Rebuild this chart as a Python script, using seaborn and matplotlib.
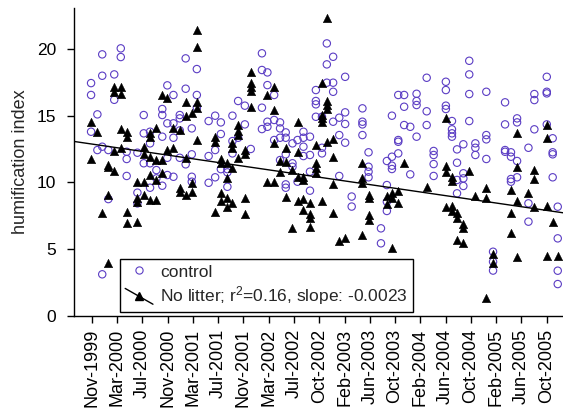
import numpy as np
import pandas as pd
import matplotlib
matplotlib.use("Agg")
import matplotlib.pyplot as plt
import matplotlib.dates as mdates
from matplotlib.lines import Line2D
from matplotlib.legend_handler import HandlerLine2D
import seaborn as sns

# Sampling dates and humification index of each replicate
sample_dates = [
    "1999-11-12", "1999-12-12", "2000-01-04", "2000-02-02", "2000-03-01",
    "2000-04-01", "2000-04-29", "2000-06-19", "2000-07-19", "2000-08-18",
    "2000-09-17", "2000-10-15", "2000-11-08", "2000-12-07", "2001-01-06",
    "2001-02-03", "2001-03-04", "2001-03-28", "2001-05-23", "2001-06-23",
    "2001-07-20", "2001-08-20", "2001-09-13", "2001-10-10", "2001-11-11",
    "2001-12-09", "2002-01-31", "2002-02-26", "2002-03-30", "2002-04-27",
    "2002-05-24", "2002-06-25", "2002-07-19", "2002-08-16", "2002-09-16",
    "2002-10-14", "2002-11-12", "2002-12-05", "2003-01-04", "2003-02-02",
    "2003-03-02", "2003-04-02", "2003-05-23", "2003-06-21", "2003-08-19",
    "2003-09-16", "2003-10-10", "2003-11-09", "2003-12-07", "2004-01-05",
    "2004-02-04", "2004-03-23", "2004-04-25", "2004-06-22", "2004-07-21",
    "2004-08-14", "2004-09-13", "2004-10-11", "2004-11-09", "2004-12-31",
    "2005-02-01", "2005-03-30", "2005-04-27", "2005-05-26", "2005-07-19",
    "2005-08-16", "2005-10-14", "2005-11-11", "2005-12-05",
]

control = [
    [17.43, 16.54, 13.79], [15.09, 12.42], [19.58, 17.98, 12.67, 3.12],
    [12.42, 8.75], [18.08, 16.18], [20.03, 19.38], [12.29, 11.75, 10.48],
    [12.22, 9.23, 8.43], [15.04, 13.67, 11.43], [13.79, 12.92, 11.43, 9.60],
    [10.92, 10.30], [15.49, 15.04, 13.42, 9.75], [17.26, 14.42, 11.84, 10.55],
    [16.54, 14.42, 13.34, 10.42], [15.04, 14.79, 13.89, 11.84],
    [19.28, 17.01, 11.35], [14.04, 12.10, 10.42, 10.05], [18.48, 16.54, 15.59],
    [14.59, 11.97, 9.97], [14.99, 12.42, 10.38], [14.49, 13.62, 10.99],
    [10.99, 10.75, 9.67], [14.99, 13.09, 12.17], [16.09, 13.34], [15.74, 14.34],
    [12.50], [19.66, 18.41, 15.59, 13.99], [18.23, 17.28, 14.54, 14.16],
    [16.54, 14.67, 13.17], [14.49, 14.04, 13.34, 11.67],
    [13.74, 13.34, 12.10, 9.85, 9.60], [12.92, 11.43, 11.17], [13.17, 10.05],
    [13.79, 13.34, 12.67, 11.97], [13.42, 12.05, 10.80, 9.38],
    [16.91, 16.09, 15.84, 14.91], [14.91, 12.59, 12.17], [20.40, 18.83, 17.46],
    [19.40, 17.46, 16.78, 14.54], [14.84, 13.54, 10.48],
    [17.90, 15.24, 14.37, 12.97], [8.94, 8.19], [15.54, 14.54, 14.34, 13.54],
    [12.25, 11.17, 10.80, 10.38], [6.56, 5.44], [11.60, 9.80, 8.55, 7.86],
    [14.99, 11.92, 11.25, 11.00], [16.54, 13.17, 13.04, 12.17],
    [16.54, 15.66, 14.29], [14.16, 10.60], [16.63, 16.09, 15.79, 13.42],
    [17.83, 15.32, 14.29], [12.35, 12.05, 11.37, 10.48],
    [17.53, 16.91, 15.74, 15.49], [14.59, 13.97, 13.67, 13.42],
    [12.47, 11.47, 10.18, 9.18], [12.85, 10.68, 10.30, 9.73],
    [19.10, 18.08, 16.61, 14.59], [12.92, 12.59, 12.05],
    [16.78, 13.54, 13.22, 11.75], [4.81, 4.06, 3.40],
    [15.99, 14.34, 12.42, 12.29], [12.25, 11.92, 10.25, 10.05],
    [14.79, 14.49, 11.60, 10.38], [12.59, 8.43, 7.06], [16.61, 16.16, 13.97],
    [17.90, 16.78, 16.66, 14.34], [13.30, 12.25, 12.10, 10.38],
    [8.18, 5.81, 3.39, 2.39],
]

no_litter = [
    [14.49, 11.75], [13.79], [7.72], [11.30, 11.17, 9.05, 3.94],
    [17.11, 16.78, 12.35, 10.85], [17.11, 16.59, 13.97, 12.59],
    [13.79, 13.42, 7.80, 6.94], [10.05, 8.85, 8.55, 7.06],
    [12.67, 12.10, 10.05, 9.05], [13.67, 13.42, 11.92, 10.55, 8.68],
    [14.04, 11.67, 10.18, 8.68], [16.54, 11.67, 10.68], [16.29, 12.42],
    [14.04, 12.55], [13.92, 9.55, 9.30], [16.03, 14.99, 11.80, 9.05],
    [15.17, 9.93, 9.30], [21.40, 20.15, 15.99, 15.54, 13.17], [],
    [13.37, 13.04, 7.80], [11.75, 11.43, 9.18, 8.60], [11.43, 10.30, 8.85, 8.18],
    [12.92, 12.55, 11.05, 8.48], [14.29, 13.84, 13.54, 11.80],
    [12.42, 12.10, 8.85, 7.61], [18.23, 17.41, 17.16, 16.83, 15.66], [],
    [16.54, 10.03], [17.16, 15.41, 12.92, 10.03], [11.62, 10.80],
    [12.59, 11.55, 8.93], [10.92, 6.56], [14.49, 12.29, 10.42, 8.60],
    [10.42, 10.18, 8.75, 7.93], [8.43, 7.61, 7.31, 6.68],
    [12.79, 11.43, 11.05, 10.68], [17.41, 15.04, 14.79, 14.49, 8.60],
    [22.32, 16.09, 15.79, 15.49, 13.04], [13.24, 11.92, 9.85, 7.68], [5.61],
    [5.81], [], [11.43, 10.30, 9.93, 6.06], [9.05, 8.81, 7.56, 7.18], [],
    [8.98, 8.36], [9.18, 8.85, 5.07], [9.35, 8.48], [11.43], [], [], [9.67], [],
    [14.79, 11.25, 10.80, 8.18], [10.42, 10.10, 8.25, 7.86], [7.68, 7.36, 5.69],
    [6.86, 6.56, 5.48], [10.85], [8.98], [9.55, 8.81, 1.37], [4.62, 3.94], [],
    [9.43, 7.68, 6.23], [13.67, 11.17, 8.63, 4.39], [9.18], [10.92, 10.25, 8.18],
    [14.29, 13.30, 8.25, 4.51], [7.06], [4.51],
]

# Linear trend of the no-litter series (slope per day)
fit_ref_date = "1999-11-15"
fit_intercept = 12.87
fit_slope = -0.0023
fit_r2 = 0.16

# Axis settings
tick_start = "1999-11-15"
tick_step_days = 120
n_ticks = 19
x_range = ("1999-08-23", "2005-12-30")
y_range = (0, 23.05)
y_ticks = [0, 5, 10, 15, 20]

purple = "#5b3dc4"

sns.set_style("ticks")
plt.rcParams["font.family"] = ["Liberation Sans", "DejaVu Sans"]
plt.rcParams["mathtext.fontset"] = "custom"
plt.rcParams["mathtext.rm"] = "Liberation Sans"
plt.rcParams["mathtext.it"] = "Liberation Sans"


def long_form(values):
    rows = [(pd.Timestamp(d), v) for d, vals in zip(sample_dates, values) for v in vals]
    return pd.DataFrame(rows, columns=["date", "humification"])


ctrl_df = long_form(control)
nl_df = long_form(no_litter)

fig = plt.figure(figsize=(5.63, 4.20), dpi=100)
ax = fig.add_axes([74 / 563, 104 / 420, 489 / 563, 308 / 420])

sns.scatterplot(data=ctrl_df, x="date", y="humification", ax=ax, marker="o",
                s=28, facecolor="none", edgecolor=purple, linewidth=0.8,
                zorder=3, legend=False)
sns.scatterplot(data=nl_df, x="date", y="humification", ax=ax, marker="^",
                s=36, color="black", edgecolor="black", linewidth=0.4,
                zorder=4, legend=False)

# trend line across the full x range
x0, x1 = mdates.date2num(pd.to_datetime(list(x_range)))
ref = mdates.date2num(pd.Timestamp(fit_ref_date))
xs = np.array([x0, x1])
ax.plot(xs, fit_intercept + fit_slope * (xs - ref), color="black", lw=1.0, zorder=5)

ax.set_xlim(x0, x1)
ax.set_ylim(*y_range)
ax.set_yticks(y_ticks)
tick_dates = pd.Timestamp(tick_start) + pd.to_timedelta(np.arange(n_ticks) * tick_step_days, unit="D")
ax.set_xticks(mdates.date2num(tick_dates))
ax.xaxis.set_major_formatter(mdates.DateFormatter("%b-%Y"))
plt.setp(ax.get_xticklabels(), rotation=90)

ax.set_xlabel("")
ax.set_ylabel("humification index", fontsize=13, labelpad=5)
ax.tick_params(axis="x", direction="out", length=5, width=1, labelsize=13, pad=4, colors="black")
ax.tick_params(axis="y", direction="out", length=5, width=1, labelsize=12.5, pad=8, colors="black")
for side in ("top", "right"):
    ax.spines[side].set_visible(False)
for side in ("left", "bottom"):
    ax.spines[side].set_linewidth(1.0)
    ax.spines[side].set_color("black")


class DiagonalHandler(HandlerLine2D):
    def create_artists(self, legend, orig_handle, xdescent, ydescent,
                       width, height, fontsize, trans):
        xa, xb = -xdescent, -xdescent + width
        ya, yb = -ydescent + height * 1.05, -ydescent - height * 0.25
        line = Line2D([xa, xb], [ya, yb])
        self.update_prop(line, orig_handle, legend)
        line.set_marker("None")
        line.set_transform(trans)
        mark = Line2D([(xa + xb) / 2], [(ya + yb) / 2])
        self.update_prop(mark, orig_handle, legend)
        mark.set_linestyle("None")
        mark.set_transform(trans)
        return [line, mark]


h_ctrl = Line2D([], [], marker="o", linestyle="None", markerfacecolor="none",
                markeredgecolor=purple, markersize=5.2, markeredgewidth=0.8)
h_nl = Line2D([], [], marker="^", color="black", markersize=6, linewidth=1.0)
nl_label = f"No litter; r$^2$={fit_r2:.2f}, slope: {fit_slope:.4f}"
leg = ax.legend([h_ctrl, h_nl], ["control", nl_label], loc="lower left",
                bbox_to_anchor=(0.094, 0.013), borderaxespad=0, frameon=True,
                fancybox=False, edgecolor="black", framealpha=1, fontsize=12.5,
                handlelength=1.6, handletextpad=0.4, borderpad=0.3,
                labelspacing=0.25, handler_map={h_nl: DiagonalHandler()})
leg.get_frame().set_linewidth(1.0)
leg.set_zorder(10)

fig.savefig("out.png", dpi=100)
